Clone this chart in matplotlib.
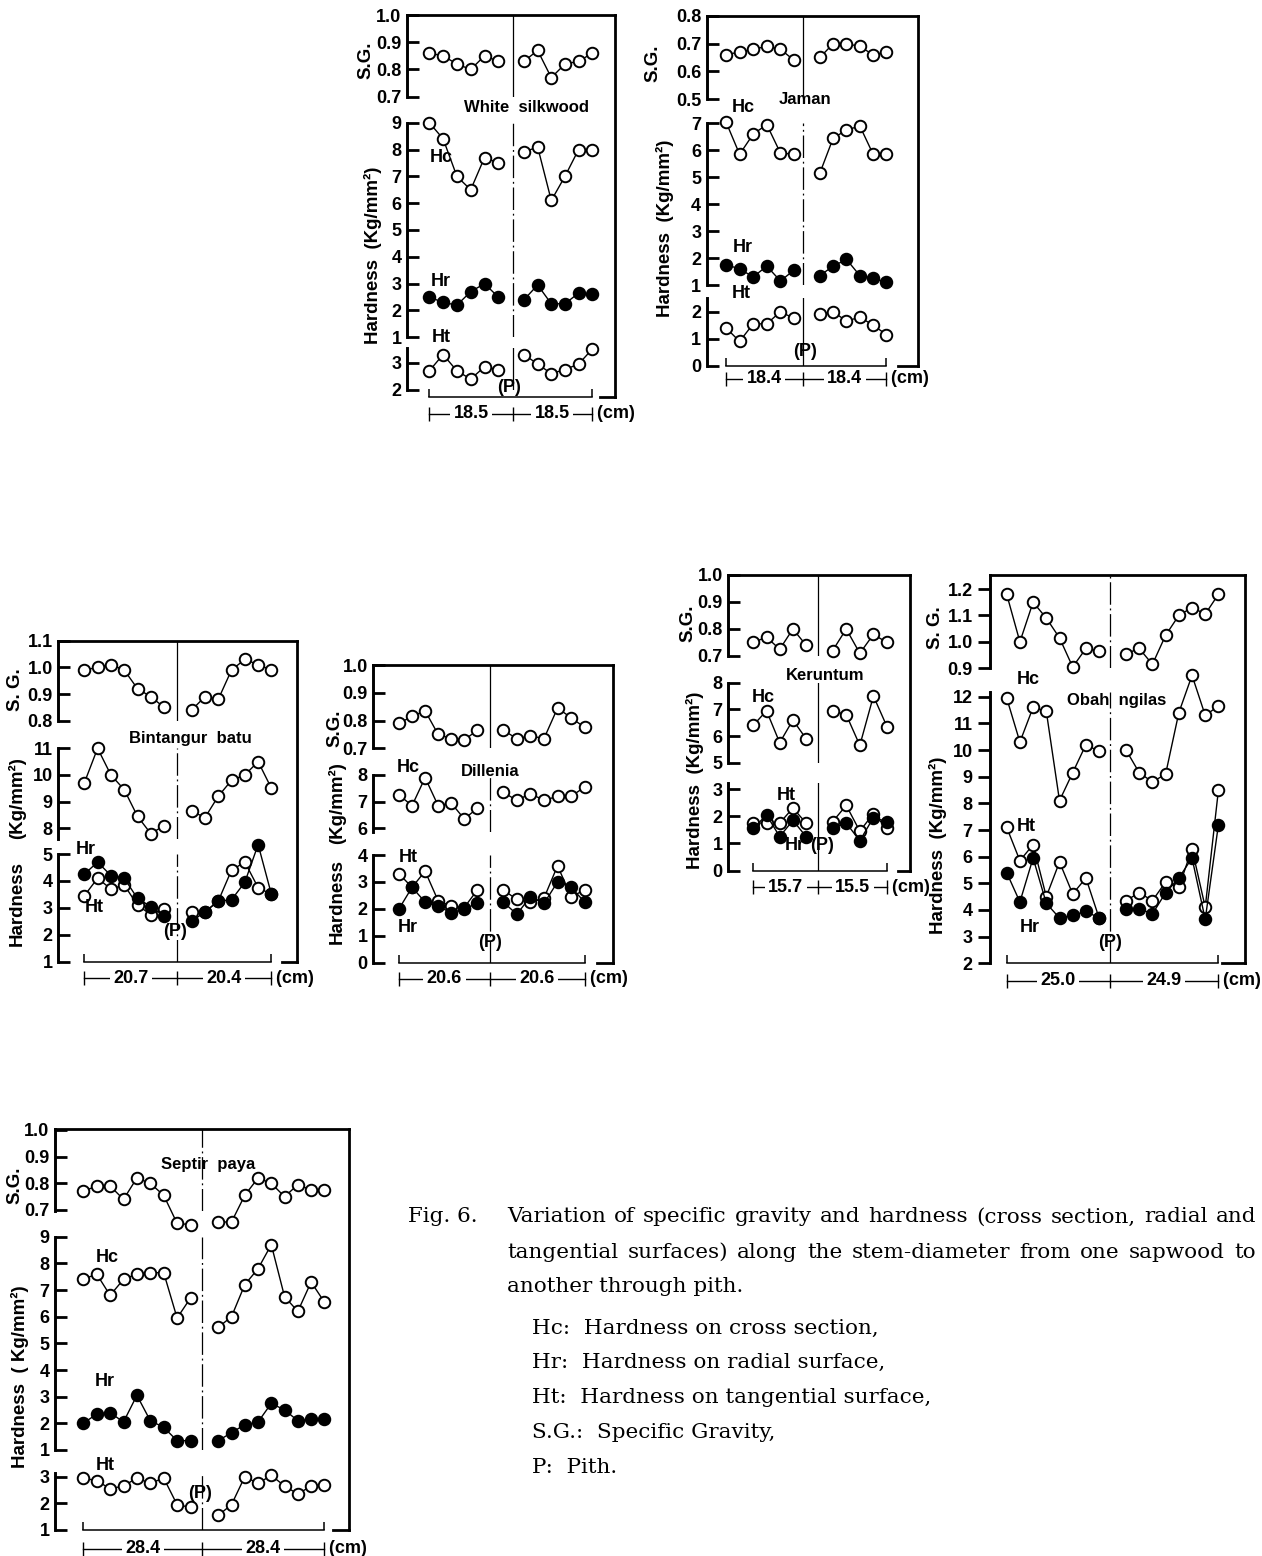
import numpy as np
import matplotlib.pyplot as plt
from matplotlib import transforms

W, H = 1262, 1556
SANS = ['Liberation Sans Narrow', 'Liberation Sans', 'DejaVu Sans']
SERIF = ['DejaVu Serif', 'Liberation Serif']
plt.rcParams['font.family'] = SANS
plt.rcParams['font.weight'] = 'bold'

# ---------------- data ----------------
# White silkwood
ws_sg_l = [0.86, 0.85, 0.82, 0.80, 0.85, 0.83]
ws_sg_r = [0.83, 0.87, 0.77, 0.82, 0.83, 0.86]
ws_hc_l = [9.0, 8.4, 7.0, 6.5, 7.7, 7.5]
ws_hc_r = [7.9, 8.1, 6.1, 7.0, 8.0, 8.0]
ws_hr_l = [2.5, 2.3, 2.2, 2.7, 3.0, 2.5]
ws_hr_r = [2.4, 2.95, 2.25, 2.25, 2.65, 2.6]
ws_ht_l = [2.7, 3.3, 2.7, 2.4, 2.85, 2.75]
ws_ht_r = [3.3, 2.95, 2.6, 2.75, 2.95, 3.5]
ws_sg_ticks = [1.0, 0.9, 0.8, 0.7]
ws_h_ticks = [9, 8, 7, 6, 5, 4, 3, 2, 1]
ws_ht_ticks = [3, 2]

# Jaman
ja_sg_l = [0.66, 0.67, 0.68, 0.69, 0.68, 0.64]
ja_sg_r = [0.65, 0.70, 0.70, 0.69, 0.66, 0.67]
ja_hc_l = [7.05, 5.85, 6.6, 6.95, 5.9, 5.85]
ja_hc_r = [5.15, 6.45, 6.75, 6.9, 5.85, 5.85]
ja_hr_l = [1.75, 1.6, 1.3, 1.7, 1.15, 1.55]
ja_hr_r = [1.35, 1.7, 1.95, 1.35, 1.25, 1.1]
ja_ht_l = [1.4, 0.9, 1.55, 1.55, 2.0, 1.75]
ja_ht_r = [1.9, 2.0, 1.65, 1.8, 1.5, 1.15]
ja_sg_ticks = [0.8, 0.7, 0.6, 0.5]
ja_h_ticks = [7, 6, 5, 4, 3, 2, 1]
ja_ht_ticks = [2, 1, 0]

# Bintangur batu
bb_sg_l = [0.99, 1.00, 1.01, 0.99, 0.92, 0.89, 0.85]
bb_sg_r = [0.84, 0.89, 0.88, 0.99, 1.03, 1.01, 0.99]
bb_hc_l = [9.7, 11.0, 10.0, 9.45, 8.45, 7.8, 8.1]
bb_hc_r = [8.65, 8.4, 9.2, 9.8, 10.0, 10.5, 9.5]
bb_hr_l = [4.25, 4.7, 4.2, 4.1, 3.35, 3.05, 2.7]
bb_hr_r = [2.5, 2.85, 3.25, 3.3, 3.95, 5.35, 3.5]
bb_ht_l = [3.45, 4.1, 3.7, 3.85, 3.1, 2.75, 2.95]
bb_ht_r = [2.85, 2.85, 3.25, 4.4, 4.7, 3.75, 3.5]
bb_sg_ticks = [1.1, 1.0, 0.9, 0.8]
bb_hc_ticks = [11, 10, 9, 8]
bb_h_ticks = [5, 4, 3, 2, 1]

# Dillenia
di_sg_l = [0.79, 0.815, 0.835, 0.75, 0.735, 0.73, 0.765]
di_sg_r = [0.765, 0.735, 0.745, 0.735, 0.845, 0.81, 0.775]
di_hc_l = [7.25, 6.85, 7.9, 6.85, 6.95, 6.35, 6.75]
di_hc_r = [7.35, 7.05, 7.3, 7.05, 7.2, 7.2, 7.55]
di_hr_l = [2.0, 2.8, 2.25, 2.1, 1.85, 2.0, 2.2]
di_hr_r = [2.25, 1.8, 2.45, 2.2, 3.0, 2.8, 2.25]
di_ht_l = [3.3, 2.8, 3.4, 2.3, 2.1, 2.05, 2.7]
di_ht_r = [2.7, 2.35, 2.25, 2.4, 3.6, 2.45, 2.7]
di_sg_ticks = [1.0, 0.9, 0.8, 0.7]
di_hc_ticks = [8, 7, 6]
di_h_ticks = [4, 3, 2, 1, 0]

# Keruntum
ke_sg_l = [0.75, 0.77, 0.725, 0.80, 0.74]
ke_sg_r = [0.72, 0.80, 0.71, 0.78, 0.75]
ke_hc_l = [6.4, 6.95, 5.75, 6.6, 5.9]
ke_hc_r = [6.95, 6.8, 5.65, 7.5, 6.35]
ke_hr_l = [1.55, 2.05, 1.25, 1.85, 1.25]
ke_hr_r = [1.55, 1.75, 1.1, 1.95, 1.8]
ke_ht_l = [1.75, 1.75, 1.75, 2.3, 1.75]
ke_ht_r = [1.8, 2.4, 1.45, 2.1, 1.55]
ke_sg_ticks = [1.0, 0.9, 0.8, 0.7]
ke_hc_ticks = [8, 7, 6, 5]
ke_h_ticks = [3, 2, 1, 0]

# Obah ngilas
ob_sg_l = [1.18, 1.00, 1.15, 1.09, 1.015, 0.905, 0.975, 0.965]
ob_sg_r = [0.955, 0.975, 0.915, 1.025, 1.10, 1.13, 1.105, 1.18]
ob_hc_l = [11.95, 10.3, 11.6, 11.45, 8.1, 9.15, 10.2, 9.95]
ob_hc_r = [10.0, 9.15, 8.8, 9.1, 11.4, 12.8, 11.3, 11.65]
ob_hr_l = [5.4, 4.3, 5.95, 4.25, 3.7, 3.8, 3.95, 3.7]
ob_hr_r = [4.05, 4.05, 3.85, 4.65, 5.2, 5.95, 3.65, 7.2]
ob_ht_l = [7.1, 5.85, 6.45, 4.5, 5.8, 4.6, 5.2, 3.7]
ob_ht_r = [4.35, 4.65, 4.35, 5.05, 4.85, 6.3, 4.1, 8.5]
ob_sg_ticks = [1.2, 1.1, 1.0, 0.9]
ob_h_ticks = [12, 11, 10, 9, 8, 7, 6, 5, 4, 3, 2]

# Septir paya
sp_sg_l = [0.77, 0.79, 0.79, 0.74, 0.82, 0.80, 0.755, 0.65, 0.645]
sp_sg_r = [0.655, 0.655, 0.755, 0.82, 0.80, 0.75, 0.795, 0.775, 0.775]
sp_hc_l = [7.4, 7.6, 6.8, 7.4, 7.6, 7.65, 7.65, 5.95, 6.7]
sp_hc_r = [5.6, 6.0, 7.2, 7.8, 8.7, 6.75, 6.2, 7.3, 6.55]
sp_hr_l = [2.0, 2.35, 2.4, 2.05, 3.05, 2.1, 1.85, 1.35, 1.35]
sp_hr_r = [1.35, 1.65, 1.95, 2.05, 2.75, 2.5, 2.1, 2.15, 2.15]
sp_ht_l = [2.95, 2.85, 2.55, 2.65, 2.95, 2.75, 2.95, 1.95, 1.85]
sp_ht_r = [1.55, 1.95, 3.0, 2.75, 3.05, 2.65, 2.35, 2.65, 2.7]
sp_sg_ticks = [1.0, 0.9, 0.8, 0.7]
sp_h_ticks = [9, 8, 7, 6, 5, 4, 3, 2, 1]
sp_ht_ticks = [3, 2, 1]

# ---------------- styles ----------------
OPEN = dict(marker='o', ms=8.3, mfc='white', mec='black', mew=1.4,
            color='black', lw=1.0, clip_on=False, zorder=3)
FILLED = dict(OPEN, mfc='black', zorder=4)
DASHDOT = (0, (18, 3, 1.5, 3))

fig = plt.figure(figsize=(W / 100, H / 100), dpi=100)


def box(x0, y0, x1, y1):
    ax = fig.add_axes([x0 / W, 1 - y1 / H, (x1 - x0) / W, (y1 - y0) / H])
    ax.patch.set_alpha(0)
    return ax


def label(x, y, s, rot=0, size=13, **kw):
    fig.text(x / W, 1 - y / H, s, rotation=rot, ha='center', va='center',
             fontsize=size, fontweight='bold', **kw)


def draw_panel(p):
    L, R, T, B = p['frame']
    x0, dx = p['x0'], p['dx']
    xlim = ((L - x0) / dx, (R - x0) / dx)
    nl, nr = len(p['sg'][0]), len(p['sg'][1])
    xl = np.arange(nl)
    xr = p['right_from'] + np.arange(nr) * p['dxr']
    pith = p['pith']

    # outer frame and bottom bracket
    fr = box(L, T, R, B)
    fr.set_xlim(xlim)
    fr.set_ylim(0, 1)
    fr.spines['left'].set_visible(False)
    fr.spines['top'].set_linewidth(2)
    fr.spines['right'].set_linewidth(2)
    fr.spines['bottom'].set_linewidth(1.1)
    fr.spines['bottom'].set_bounds(0, xr[-1])
    fr.set_xticks([0, xr[-1]])
    fr.set_xticklabels([])
    fr.set_yticks([])
    fr.tick_params(axis='x', direction='in', length=6, width=1.1)
    stub = (p['stub'] - L) / (R - L)
    fr.axhline(0, xmin=stub, xmax=1, color='black', lw=2, clip_on=False)

    # stacked scales
    for seg in p['segs']:
        top, bot = seg['span']
        v1, v2 = seg['ticks'][0], seg['ticks'][-1]
        p1, p2 = seg['tick_px']
        k = (v2 - v1) / (p2 - p1)
        ax = box(L, top, R, bot)
        ax.set_xlim(xlim)
        ax.set_ylim(v1 + (bot - p1) * k, v1 + (top - p1) * k)
        for s in ['top', 'right', 'bottom']:
            ax.spines[s].set_visible(False)
        ax.spines['left'].set_linewidth(2.1)
        ax.set_xticks([])
        ax.set_yticks(seg['ticks'])
        ax.set_yticklabels([seg['fmt'].format(t) for t in seg['ticks']])
        ax.tick_params(axis='y', direction=p.get('tickdir', 'in'), length=8.5,
                       width=2, pad=4, labelsize=13)
        ax.axvline(pith, color='black', lw=0.9, ls=seg.get('pith_ls', '-'))
        for name in seg['series']:
            left, right = p[name]
            st = FILLED if name == 'hr' else OPEN
            ax.plot(xl, left, **st)
            ax.plot(xr, right, **st)

    # distance line under the panel
    dy = p['dim_y']
    dm = box(L, dy - 0.5, R, dy + 0.5)
    dm.set_xlim(xlim)
    dm.set_ylim(0, 1)
    for s in ['top', 'right', 'left']:
        dm.spines[s].set_visible(False)
    dm.spines['bottom'].set_linewidth(1.0)
    dm.spines['bottom'].set_bounds(0, xr[-1])
    dm.set_xticks([0, pith, xr[-1]])
    dm.set_xticklabels([])
    dm.set_yticks([])
    dm.tick_params(axis='x', direction='inout', length=10, width=1.0)
    tr = transforms.blended_transform_factory(dm.transData, dm.transAxes)
    for xm, txt in zip([pith / 2, (pith + xr[-1]) / 2], p['dist']):
        dm.text(xm, 0, txt, transform=tr, ha='center', va='center', fontsize=13,
                fontweight='bold', bbox=dict(fc='white', ec='none', pad=2.5))
    dm.text(xr[-1], 0, ' (cm)', transform=tr, ha='left', va='center',
            fontsize=13, fontweight='bold')

    for (s, x, y, kw) in p['texts']:
        label(x, y, s, **kw)


V = dict(rot=90, size=13.5)
NAME = dict(size=12)
panels = [
    dict(frame=(407, 615, 15, 397), x0=429.3, dx=13.8, pith=6.04, right_from=6.86, dxr=0.99,
         stub=600, dim_y=413, dist=['18.5', '18.5'],
         sg=(ws_sg_l, ws_sg_r), hc=(ws_hc_l, ws_hc_r), hr=(ws_hr_l, ws_hr_r), ht=(ws_ht_l, ws_ht_r),
         segs=[dict(span=(15, 97), ticks=ws_sg_ticks, tick_px=(15, 96.7), fmt='{:.1f}', series=['sg']),
               dict(span=(122.7, 337.3), ticks=ws_h_ticks, tick_px=(122.7, 337.3), fmt='{:d}',
                    series=['hc', 'hr'], pith_ls=DASHDOT),
               dict(span=(348, 390), ticks=ws_ht_ticks, tick_px=(362.7, 390), fmt='{:d}', series=['ht'])],
         texts=[('S.G.', 366, 60, V), ('Hardness  (Kg/mm²)', 373, 255, V),
                ('White  silkwood', 527, 107, NAME), ('Hc', 441, 157, {}),
                ('Hr', 441, 282, {}), ('Ht', 441, 338, {}), ('(P)', 509, 387, {})]),
    dict(frame=(706.7, 918, 16, 365.7), x0=726, dx=13.6, pith=5.66, right_from=6.9, dxr=0.98,
         stub=898, dim_y=378, dist=['18.4', '18.4'],
         sg=(ja_sg_l, ja_sg_r), hc=(ja_hc_l, ja_hc_r), hr=(ja_hr_l, ja_hr_r), ht=(ja_ht_l, ja_ht_r),
         segs=[dict(span=(16, 99), ticks=ja_sg_ticks, tick_px=(16, 99), fmt='{:.1f}', series=['sg']),
               dict(span=(123.3, 285), ticks=ja_h_ticks, tick_px=(123.3, 285), fmt='{:d}',
                    series=['hc', 'hr'], pith_ls=DASHDOT),
               dict(span=(298, 365.7), ticks=ja_ht_ticks, tick_px=(311.7, 365.7), fmt='{:d}', series=['ht'])],
         texts=[('S.G.', 653, 63, V), ('Hardness  (Kg/mm²)', 665, 228, V),
                ('Jaman', 805, 100, NAME), ('Hc', 743, 108, {}),
                ('Hr', 743, 247, {}), ('Ht', 741, 293, {}), ('(P)', 805, 352, {})]),
    dict(frame=(58.3, 296.7, 640.7, 961.7), x0=84.3, dx=13.3, pith=6.97, right_from=8.07, dxr=1.0,
         stub=282, dim_y=977.7, dist=['20.7', '20.4'],
         sg=(bb_sg_l, bb_sg_r), hc=(bb_hc_l, bb_hc_r), hr=(bb_hr_l, bb_hr_r), ht=(bb_ht_l, bb_ht_r),
         segs=[dict(span=(640.7, 720.7), ticks=bb_sg_ticks, tick_px=(640.7, 720.7), fmt='{:.1f}', series=['sg']),
               dict(span=(748.3, 839.3), ticks=bb_hc_ticks, tick_px=(748.3, 828.3), fmt='{:d}',
                    series=['hc'], pith_ls=DASHDOT),
               dict(span=(854, 961.7), ticks=bb_h_ticks, tick_px=(854, 961.7), fmt='{:d}',
                    series=['ht', 'hr'], pith_ls=DASHDOT)],
         texts=[('S. G.', 15, 690, V), ('(Kg/mm²)', 17, 798, V), ('Hardness', 17, 903, V),
                ('Bintangur  batu', 190, 738, NAME), ('Hr', 86, 849, {}),
                ('Ht', 94, 908, {}), ('(P)', 175, 932, {})]),
    dict(frame=(373.3, 613.3, 665, 962.7), x0=399, dx=13.05, pith=6.97, right_from=7.99, dxr=1.04,
         stub=597, dim_y=978, dist=['20.6', '20.6'],
         sg=(di_sg_l, di_sg_r), hc=(di_hc_l, di_hc_r), hr=(di_hr_l, di_hr_r), ht=(di_ht_l, di_ht_r),
         segs=[dict(span=(665, 748.3), ticks=di_sg_ticks, tick_px=(665, 748.3), fmt='{:.1f}', series=['sg']),
               dict(span=(775, 832), ticks=di_hc_ticks, tick_px=(775, 828.3), fmt='{:d}',
                    series=['hc'], pith_ls=DASHDOT),
               dict(span=(855, 962.7), ticks=di_h_ticks, tick_px=(855, 962.7), fmt='{:d}',
                    series=['ht', 'hr'], pith_ls=DASHDOT)],
         texts=[('S.G.', 335, 728, V), ('(Kg/mm²)', 337, 803, V), ('Hardness', 337, 902, V),
                ('Dillenia', 490, 772, NAME), ('Hc', 408, 768, {}),
                ('Ht', 408, 857, {}), ('Hr', 408, 927, {}), ('(P)', 490, 942, {})]),
    dict(frame=(728.3, 910, 575, 870.7), x0=753.3, dx=13.2, pith=4.92, right_from=6.01, dxr=1.03,
         stub=898, dim_y=886.7, dist=['15.7', '15.5'],
         sg=(ke_sg_l, ke_sg_r), hc=(ke_hc_l, ke_hc_r), hr=(ke_hr_l, ke_hr_r), ht=(ke_ht_l, ke_ht_r),
         segs=[dict(span=(575, 656), ticks=ke_sg_ticks, tick_px=(575, 656), fmt='{:.1f}', series=['sg']),
               dict(span=(682.7, 762.7), ticks=ke_hc_ticks, tick_px=(682.7, 762.7), fmt='{:d}', series=['hc']),
               dict(span=(783, 870.7), ticks=ke_h_ticks, tick_px=(789, 870.7), fmt='{:d}',
                    series=['ht', 'hr'])],
         texts=[('S.G.', 688, 623, V), ('Hardness  (Kg/mm²)', 695, 780, V),
                ('Keruntum', 825, 676, NAME), ('Hc', 763, 697, {}),
                ('Ht', 786, 795, {}), ('Hr', 795, 846, {}), ('(P)', 822, 846, {})]),
    dict(frame=(990, 1245, 575, 963.3), x0=1006.7, dx=13.2, pith=7.83, right_from=9.04, dxr=1.0,
         stub=1222, dim_y=980, dist=['25.0', '24.9'], tickdir='out',
         sg=(ob_sg_l, ob_sg_r), hc=(ob_hc_l, ob_hc_r), hr=(ob_hr_l, ob_hr_r), ht=(ob_ht_l, ob_ht_r),
         segs=[dict(span=(575, 668.3), ticks=ob_sg_ticks, tick_px=(589, 668.3), fmt='{:.1f}',
                    series=['sg'], pith_ls=DASHDOT),
               dict(span=(692, 963.3), ticks=ob_h_ticks, tick_px=(696.7, 963.3), fmt='{:d}',
                    series=['hc', 'ht', 'hr'], pith_ls=DASHDOT)],
         texts=[('S. G.', 935, 628, V), ('Hardness  (Kg/mm²)', 938, 845, V),
                ('Hc', 1028, 680, {}), ('Obah  ngilas', 1117, 700, NAME),
                ('Ht', 1026, 827, {}), ('Hr', 1030, 927, {}), ('(P)', 1110, 942, {})]),
    dict(frame=(55, 349.3, 1129, 1530), x0=83.3, dx=13.4, pith=8.84, right_from=10.07, dxr=0.99,
         stub=333, dim_y=1548, dist=['28.4', '28.4'],
         sg=(sp_sg_l, sp_sg_r), hc=(sp_hc_l, sp_hc_r), hr=(sp_hr_l, sp_hr_r), ht=(sp_ht_l, sp_ht_r),
         segs=[dict(span=(1129, 1211), ticks=sp_sg_ticks, tick_px=(1130, 1210), fmt='{:.1f}',
                    series=['sg'], pith_ls=DASHDOT),
               dict(span=(1236.7, 1450), ticks=sp_h_ticks, tick_px=(1236.7, 1450), fmt='{:d}',
                    series=['hc', 'hr'], pith_ls=DASHDOT),
               dict(span=(1473, 1530), ticks=sp_ht_ticks, tick_px=(1476.7, 1530), fmt='{:d}',
                    series=['ht'], pith_ls=DASHDOT)],
         texts=[('S.G.', 15, 1185, V), ('Hardness  ( Kg/mm²)', 20, 1377, V),
                ('Septir  paya', 208, 1165, NAME), ('Hc', 107, 1257, {}),
                ('Hr', 105, 1382, {}), ('Ht', 105, 1465, {}), ('(P)', 200, 1493, {})]),
]

for p in panels:
    draw_panel(p)

# ---------------- caption ----------------
caption_lines = ['Variation of specific gravity and hardness (cross section, radial and',
                 'tangential surfaces) along the stem-diameter from one sapwood to',
                 'another through pith.']
legend_lines = ['Hc:  Hardness on cross section,', 'Hr:  Hardness on radial surface,',
                'Ht:  Hardness on tangential surface,', 'S.G.:  Specific Gravity,', 'P:  Pith.']

renderer = fig.canvas.get_renderer()
probe = fig.text(0, 0, caption_lines[0], family=SERIF, fontsize=16, fontweight='normal')
natural = probe.get_window_extent(renderer).width
probe.remove()
cap_fs = 16 * 735 / natural
cap = dict(fontsize=cap_fs, family=SERIF, fontweight='normal', va='center', ha='left')


def justified(line, x0, x1, y):
    words = line.split()
    ts = [fig.text(0, 1 - y / H, w, **cap) for w in words]
    widths = [t.get_window_extent(renderer).width for t in ts]
    gap = (x1 - x0 - sum(widths)) / (len(words) - 1)
    x = x0
    for t, w in zip(ts, widths):
        t.set_x(x / W)
        x += w + gap


fig.text(408 / W, 1 - 1217 / H, 'Fig. 6.', **cap)
justified(caption_lines[0], 507, 1256, 1217)
justified(caption_lines[1], 507, 1256, 1252)
fig.text(507 / W, 1 - 1287 / H, caption_lines[2], **cap)
for i, s in enumerate(legend_lines):
    fig.text(532 / W, 1 - (1328 + 34.8 * i) / H, s, **cap)

fig.savefig('out.png', dpi=100)
